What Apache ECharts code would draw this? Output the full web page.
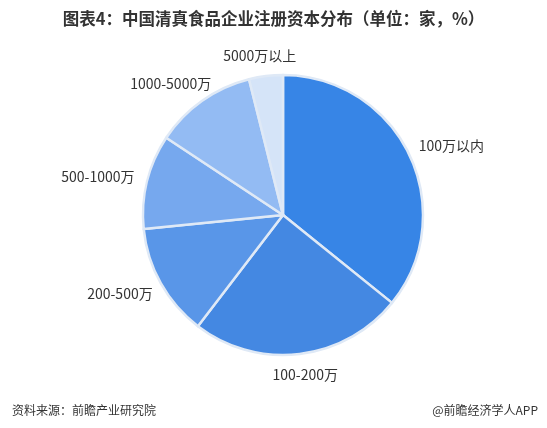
<!DOCTYPE html>
<html>
<head>
<meta charset="utf-8">
<script src="https://cdn.jsdelivr.net/npm/echarts@6/dist/echarts.min.js"></script>
<style>
html,body{margin:0;padding:0;background:#fff;}
#chart{width:547px;height:428px;}
</style>
</head>
<body>
<div id="chart"></div>
<script>
const categories = ['100万以内', '100-200万', '200-500万', '500-1000万', '1000-5000万', '5000万以上'];
const values = [35.8, 24.6, 13.0, 10.9, 11.8, 3.9];
const colors = ['#3785e6', '#4488e2', '#5996e8', '#76a8ee', '#93bbf3', '#d5e4f8'];

const CX = 283, CY = 215, R = 140, GAP = 14;
const total = values.reduce((a, b) => a + b, 0);
const midAngles = [];
let acc = 0;
values.forEach(v => { midAngles.push((acc + v / 2) / total * 2 * Math.PI); acc += v; });

const chart = echarts.init(document.getElementById('chart'));
chart.setOption({
  backgroundColor: '#fff',
  animation: false,
  title: [{
    text: '图表4：中国清真食品企业注册资本分布（单位：家，%）',
    left: 'center', top: 5,
    textStyle: { fontSize: 16.5, fontWeight: 'bold', color: '#333', fontFamily: 'Noto Sans CJK SC' }
  }, {
    text: '资料来源：前瞻产业研究院',
    left: 7, top: 399,
    textStyle: { fontSize: 12, fontWeight: 'normal', color: '#333', fontFamily: 'Noto Sans CJK SC' }
  }, {
    text: '@前瞻经济学人APP',
    right: 4, top: 399,
    textStyle: { fontSize: 12, fontWeight: 'normal', color: '#333', fontFamily: 'Noto Sans CJK SC' }
  }],
  series: [{
    type: 'pie',
    center: [CX, CY],
    radius: [0, R],
    startAngle: 90,
    clockwise: true,
    data: categories.map((c, i) => ({ name: c, value: values[i], itemStyle: { color: colors[i] } })),
    itemStyle: { borderColor: '#dfe9f6', borderWidth: 2.5 },
    label: {
      show: true, position: 'outside', formatter: '{b}',
      fontSize: 14, color: '#333', fontFamily: 'Noto Sans CJK SC'
    },
    labelLine: { show: false, length: 10, length2: 0 },
    labelLayout: function (p) {
      const a = midAngles[p.dataIndex];
      const ux = Math.sin(a), uy = -Math.cos(a);
      const w = p.labelRect.width, h = p.labelRect.height;
      const x = CX + ux * (R + GAP) + ux * w / 2;
      const y = CY + uy * (R + GAP) + uy * h / 2;
      return { x: x, y: y, align: 'center', verticalAlign: 'middle' };
    },
    emphasis: { disabled: true }
  }]
});
</script>
</body>
</html>
